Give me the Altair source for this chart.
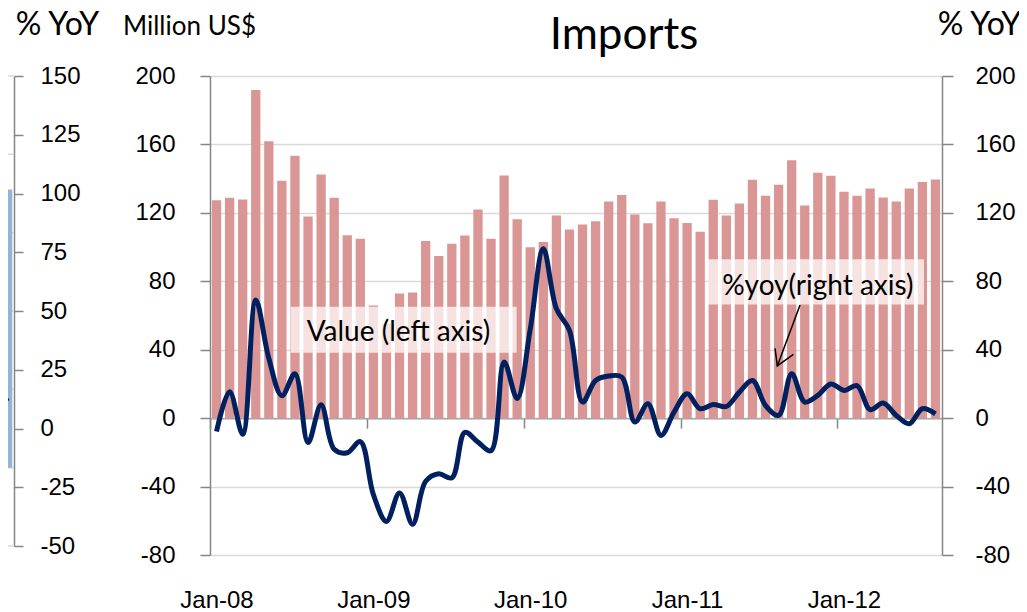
import json
import altair as alt
import pandas as pd

# ---------------- data ----------------
TICK_LABELS = ["Jan-08", "Jan-09", "Jan-10", "Jan-11", "Jan-12"]
TICK_MONTHS = [0, 12, 24, 36, 48]

# monthly imports, million US$ (Jan-08 .. Aug-12)
VALUE = [127.4, 128.8, 127.8, 191.8, 161.8, 138.7, 153.4, 117.9, 142.4, 128.8, 106.9, 104.8,
         65.8, 55.0, 72.8, 73.4, 103.6, 94.8, 101.9, 106.7, 122.0, 104.8, 141.9, 116.3,
         99.9, 103.0, 118.4, 110.2, 113.2, 115.1, 126.6, 130.5, 119.0, 113.9, 126.6, 116.9,
         114.1, 108.9, 127.6, 118.4, 125.5, 139.3, 130.0, 136.4, 150.8, 124.3, 143.4, 141.7,
         132.3, 130.0, 134.2, 129.0, 126.6, 134.2, 138.1, 139.5]

# % yoy
YOY = [-7.8, 15.5, -9.4, 69.0, 35.0, 13.1, 25.9, -14.3, 7.8, -18.2, -20.2, -13.7,
       -44.7, -60.4, -43.7, -62.0, -36.9, -32.5, -34.9, -8.3, -14.0, -19.0, 32.8, 11.5,
       52.0, 99.0, 64.0, 51.3, 9.4, 22.0, 24.6, 24.0, -2.3, 8.4, -10.1, 3.5,
       14.2, 5.5, 8.0, 6.8, 15.2, 22.0, 7.4, 1.6, 26.0, 9.4, 13.3, 20.0,
       16.2, 19.0, 5.0, 8.8, 1.6, -3.3, 5.5, 2.5]

LEFT_TICKS = [-80, -40, 0, 40, 80, 120, 160, 200]

# fragment of the neighbouring chart (cropped at the left edge)
FRAG_TICKS = [-50, -25, 0, 25, 50, 75, 100, 125, 150]
FRAG_GRID = [-40, 0, 40, 80, 120, 160, 200]
FRAG_MONTH = [55]
FRAG_VALUE = [142.0]
FRAG_LINE_MONTH = [54, 55]
FRAG_LINE_YOY = [19.5, 11.5]

# ---------------- layout ----------------
W, H = 732, 479
N = len(VALUE)
Y_DOM = [-80, 200]
ZERO_OFFSET = -(0 - Y_DOM[0]) / (Y_DOM[1] - Y_DOM[0]) * H
FRAG_AXIS_X = -196          # fragment axis position relative to plot left
FRAG_H = 470

BAR_COLOR = "#D99694"
LINE_COLOR = "#002060"
AXIS_COLOR = "#868686"
GRID_COLOR = "#d9d9d9"
TICK_FONT = "Liberation Sans"
TEXT_FONT = "Lato"
NUM_LABEL = "'' + datum.value"   # plain hyphen-minus for negatives

main = pd.DataFrame({"i": list(range(N)), "value": VALUE, "yoy": YOY})


def xs():
    return alt.Scale(domain=[0, N], nice=False, zero=False, padding=0)


def ys():
    return alt.Scale(domain=Y_DOM, nice=False, zero=False, padding=0)


def fxs():
    return alt.Scale(domain=[0, N], range=[FRAG_AXIS_X - (W - 2), FRAG_AXIS_X],
                     nice=False, zero=False, padding=0)


label_expr = json.dumps(TICK_LABELS) + "[round(datum.value / 12)]"

# ---- fragment (neighbouring chart) ----
frag_grid = alt.Chart(pd.DataFrame({"g": FRAG_GRID})).transform_calculate(
    a="0", b=str(N)
).mark_rule(color=GRID_COLOR, strokeWidth=1.5).encode(
    x=alt.X("a:Q", scale=fxs(), axis=None),
    x2="b:Q",
    y=alt.Y("g:Q", scale=alt.Scale(domain=[-40, 200], range=[FRAG_H, 0], nice=False, zero=False),
            axis=None),
)

frag_bar = alt.Chart(pd.DataFrame({"m": FRAG_MONTH, "v": FRAG_VALUE})).transform_calculate(
    xc="datum.m + 0.5"
).mark_bar(width=9.6, color="#95B3D7").encode(
    x=alt.X("xc:Q", scale=fxs(), axis=None),
    y=alt.Y("v:Q", scale=alt.Scale(domain=[-40, 200], range=[FRAG_H, 0], nice=False, zero=False),
            axis=None),
    y2=alt.datum(0),
)

frag_line = alt.Chart(pd.DataFrame({"m": FRAG_LINE_MONTH, "v": FRAG_LINE_YOY})).transform_calculate(
    xc="datum.m + 0.5"
).mark_line(color=LINE_COLOR, strokeWidth=5).encode(
    x=alt.X("xc:Q", scale=fxs(), axis=None),
    y=alt.Y("v:Q",
            scale=alt.Scale(domain=[-50, 150], range=[FRAG_H, 0], nice=False, zero=False),
            axis=alt.Axis(orient="right", offset=FRAG_AXIS_X - W, values=FRAG_TICKS,
                          labelExpr=NUM_LABEL,
                          grid=False, domainColor=AXIS_COLOR, domainWidth=1.5,
                          tickColor=AXIS_COLOR, tickWidth=1.5, tickSize=9,
                          labelFont=TICK_FONT, labelFontSize=24, labelColor="black",
                          labelPadding=17, labelAlign="left",
                          title="% YoY", titleAngle=0, titleFont=TEXT_FONT, titleFontSize=32,
                          titleFontWeight="normal", titleColor="black",
                          titleAlign="center", titleBaseline="alphabetic",
                          titleX=43, titleY=-42)),
)

# ---- main chart ----
bars = alt.Chart(main).transform_calculate(xc="datum.i + 0.5").mark_bar(
    width=9.3, color=BAR_COLOR
).encode(
    x=alt.X("xc:Q", scale=xs(),
            axis=alt.Axis(orient="bottom", values=TICK_MONTHS, labelExpr=label_expr,
                          domain=False, ticks=False, grid=False, labelFlush=False,
                          labelOffset=6.5, labelPadding=33, labelFont=TICK_FONT,
                          labelFontSize=24, labelColor="black", title=None)),
    y=alt.Y("value:Q", scale=ys(),
            axis=alt.Axis(orient="left", values=LEFT_TICKS, labelExpr=NUM_LABEL,
                          grid=True, gridColor=GRID_COLOR,
                          gridWidth=1.5, domainColor=AXIS_COLOR, domainWidth=1.5,
                          tickColor=AXIS_COLOR, tickWidth=1.5, tickSize=10,
                          labelFont=TICK_FONT, labelFontSize=24, labelColor="black",
                          labelPadding=25,
                          title="Million US$", titleAngle=0, titleFont=TEXT_FONT,
                          titleFontSize=26, titleFontWeight="normal", titleColor="black",
                          titleAlign="center", titleBaseline="alphabetic",
                          titleX=-21, titleY=-42)),
    y2=alt.datum(0),
)

line = alt.Chart(main).transform_calculate(xc="datum.i + 0.5").mark_line(
    color=LINE_COLOR, strokeWidth=5, interpolate="catmull-rom"
).encode(
    x=alt.X("xc:Q", scale=xs(),
            axis=alt.Axis(orient="bottom", offset=ZERO_OFFSET, values=TICK_MONTHS,
                          labels=False, grid=False, domainColor="#a6a6a6", domainWidth=1.5,
                          tickColor=AXIS_COLOR, tickWidth=1.5, tickSize=10, title=None)),
    y=alt.Y("yoy:Q", scale=ys(),
            axis=alt.Axis(orient="right", values=LEFT_TICKS, labelExpr=NUM_LABEL, grid=False,
                          domainColor=AXIS_COLOR, domainWidth=1.5,
                          tickColor=AXIS_COLOR, tickWidth=1.5, tickSize=11,
                          labelFont=TICK_FONT, labelFontSize=24, labelColor="black",
                          labelPadding=22, labelAlign="left",
                          title="% YoY", titleAngle=0, titleFont=TEXT_FONT, titleFontSize=32,
                          titleFontWeight="normal", titleColor="black",
                          titleAlign="center", titleBaseline="alphabetic",
                          titleX=37, titleY=-42)),
)

# ---- annotations (positioned in data coordinates) ----
boxes_df = pd.DataFrame({"x": [6.17, 38.1], "x2": [23.46, 54.62],
                         "y": [38.25, 66.5], "y2": [65.14, 92.85]})
boxes = alt.Chart(boxes_df).mark_rect(color="white", opacity=0.72).encode(
    x=alt.X("x:Q", scale=xs(), axis=None), x2="x2:Q",
    y=alt.Y("y:Q", scale=ys(), axis=None), y2="y2:Q",
)

labels_df = pd.DataFrame({"x": [14.42, 46.5], "y": [49.8, 76.7],
                          "t": ["Value (left axis)", "%yoy(right axis)"]})
labels = alt.Chart(labels_df).mark_text(
    font=TEXT_FONT, fontSize=28, color="black", baseline="middle", align="center"
).encode(
    x=alt.X("x:Q", scale=xs(), axis=None),
    y=alt.Y("y:Q", scale=ys(), axis=None),
    text="t:N",
)

shaft_df = pd.DataFrame({"x": [45.14], "y": [66.1], "x2": [43.40], "y2": [30.5]})
shaft = alt.Chart(shaft_df).mark_rule(color="black", strokeWidth=1.5).encode(
    x=alt.X("x:Q", scale=xs(), axis=None), x2="x2:Q",
    y=alt.Y("y:Q", scale=ys(), axis=None), y2="y2:Q",
)

head_df = pd.DataFrame({"o": [0, 1, 2], "x": [43.23, 43.40, 44.63], "y": [40.8, 30.5, 37.3]})
head = alt.Chart(head_df).mark_line(color="black", strokeWidth=1.5).encode(
    x=alt.X("x:Q", scale=xs(), axis=None),
    y=alt.Y("y:Q", scale=ys(), axis=None),
    order="o:O",
)

chart = alt.layer(
    frag_grid, frag_bar, frag_line, bars, line, boxes, labels, shaft, head
).resolve_scale(
    x="independent", y="independent"
).properties(
    width=W, height=H,
    title=alt.TitleParams("Imports", font=TEXT_FONT, fontSize=44, fontWeight="normal",
                          color="black", anchor="middle", frame="group", dx=48, dy=85,
                          baseline="alphabetic", offset=0),
    autosize=alt.AutoSizeParams(type="none"),
    padding={"left": 202, "top": 68, "right": 77, "bottom": 57},
).configure_view(stroke=None).configure(background="white")

chart.save("out.html", embed_options={"renderer": "svg", "actions": False})
